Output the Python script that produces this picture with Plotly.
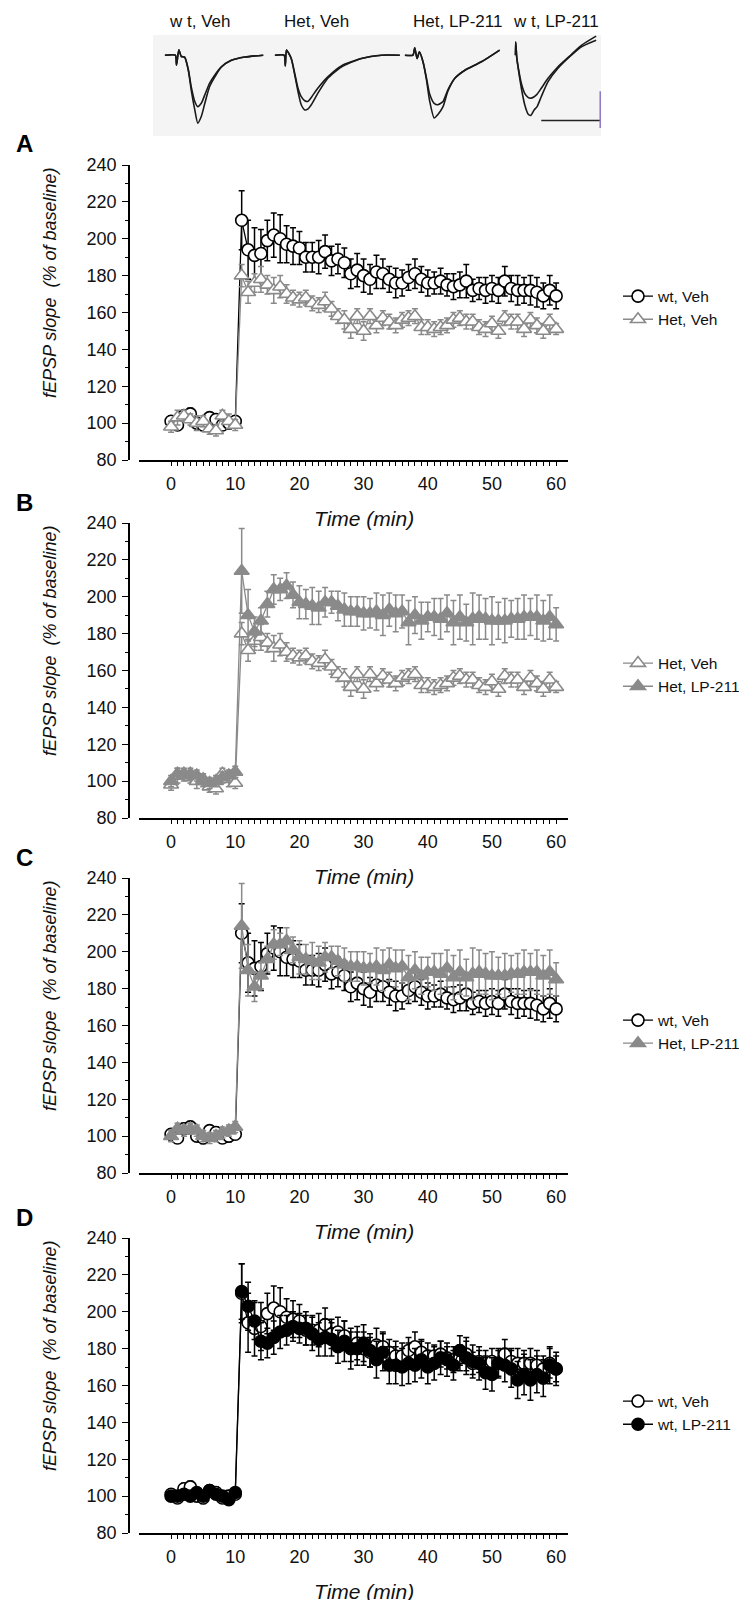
import plotly.graph_objects as go

W, H = 747, 1600
FONT = "Arial, Liberation Sans, sans-serif"
GREY = "#8a8a8a"

# ---- LTP time course data (minutes, % of baseline, SEM) ----
minutes = list(range(0, 61))

wt_veh = [101, 99, 104, 105, 100, 99, 103, 102, 99, 100, 101,
          210, 194, 191, 192, 199, 202, 200, 197, 196, 195,
          190, 190, 190, 193, 188, 189, 187, 181, 183, 180,
          178, 182, 181, 178, 176, 176, 179, 181, 178, 176,
          176, 177, 175, 174, 175, 177, 172, 173, 172, 173,
          172, 177, 173, 172, 172, 172, 171, 169, 172, 169]
wt_veh_sem = [3, 2, 3, 3, 2, 3, 2, 3, 2, 3, 2,
              16, 16, 15, 13, 11, 12, 13, 10, 10, 9,
              8, 8, 9, 9, 8, 8, 8, 8, 9, 9,
              8, 9, 8, 7, 8, 7, 7, 8, 7, 7,
              6, 7, 6, 7, 7, 9, 6, 6, 7, 7,
              7, 8, 7, 8, 7, 8, 8, 7, 8, 7]

het_veh = [98, 103, 104, 102, 100, 101, 97, 96, 104, 101, 99,
           180, 171, 176, 178, 175, 172, 174, 170, 168, 167,
           168, 165, 164, 166, 162, 158, 156, 151, 158, 150,
           158, 153, 157, 155, 153, 156, 157, 158, 152, 152,
           151, 152, 153, 156, 157, 155, 155, 152, 151, 154,
           150, 157, 155, 155, 151, 156, 153, 150, 155, 151]
het_veh_sem = [3, 4, 3, 3, 4, 3, 3, 3, 3, 4, 3,
               6, 6, 5, 7, 5, 7, 6, 5, 4, 4,
               4, 4, 4, 5, 4, 4, 5, 5, 4, 5,
               4, 4, 4, 4, 4, 4, 4, 4, 4, 4,
               4, 4, 4, 4, 4, 4, 4, 4, 4, 4,
               4, 4, 4, 4, 4, 4, 4, 4, 4, 3]

het_lp = [100, 104, 103, 104, 103, 100, 99, 100, 102, 103, 105,
          214, 190, 181, 187, 196, 204, 204, 206, 201, 197,
          196, 195, 194, 197, 197, 195, 193, 192, 192, 191,
          191, 192, 190, 193, 191, 192, 186, 190, 187, 189,
          189, 188, 191, 186, 189, 186, 188, 189, 188, 187,
          187, 187, 188, 188, 189, 189, 189, 187, 189, 185]
het_lp_sem = [3, 3, 3, 3, 3, 3, 3, 3, 3, 3, 3,
              23, 14, 8, 7, 7, 8, 6, 7, 7, 9,
              8, 10, 9, 8, 6, 8, 9, 8, 8, 9,
              8, 10, 11, 9, 10, 9, 12, 10, 10, 8,
              10, 11, 10, 12, 12, 10, 14, 12, 11, 13,
              10, 12, 10, 11, 12, 10, 12, 11, 12, 9]

wt_lp = [100, 100, 101, 100, 102, 100, 103, 101, 100, 98, 102,
         211, 203, 195, 184, 183, 186, 189, 190, 192, 191,
         191, 188, 185, 186, 185, 181, 184, 180, 180, 183,
         179, 174, 178, 171, 171, 170, 172, 171, 174, 170,
         172, 175, 174, 171, 179, 175, 173, 172, 167, 166,
         172, 171, 169, 163, 166, 163, 166, 164, 171, 169]
wt_lp_sem = [2, 2, 2, 2, 2, 2, 2, 2, 2, 2, 2,
             15, 13, 10, 10, 8, 9, 9, 8, 8, 8,
             9, 9, 9, 10, 9, 9, 11, 11, 9, 10,
             9, 10, 10, 10, 10, 10, 11, 9, 10, 9,
             9, 9, 9, 8, 8, 9, 9, 9, 9, 9,
             8, 9, 10, 10, 11, 11, 10, 10, 10, 9]

y_ticks = [80, 100, 120, 140, 160, 180, 200, 220, 240]
x_ticks = [0, 10, 20, 30, 40, 50, 60]

# ---- example fEPSP sweeps (ms, mV): baseline and post-tetanus ----
sweep_labels = ["w t, Veh", "Het, Veh", "Het, LP-211", "w t, LP-211"]
sweep_ms = [
    [0, 1.8, 2.0, 2.4, 2.8, 3.4, 4.0, 4.5, 5.1, 5.6, 6.2, 6.8, 7.6, 8.5, 9.6, 11.3, 13.6, 16.7],
    [0, 1.6, 1.8, 2.0, 2.8, 3.4, 3.95, 4.5, 5.1, 5.6, 6.2, 7.3, 9.0, 11.3, 14.7, 18.1, 21.2],
    [0, 1.4, 1.7, 2.1, 2.5, 3.1, 3.7, 4.2, 5.0, 5.6, 6.5, 7.3, 8.5, 10.2, 13.0, 16.1],
    [0, 0.17, 0.34, 0.68, 1.13, 1.7, 2.26, 2.7, 3.3, 3.8, 4.5, 5.65, 7.3, 9.6, 11.3, 13.8],
]
sweep_pre = [
    [0, 0, -0.27, 0.15, -0.03, -0.06, -0.39, -0.86, -1.26, -1.40, -1.31, -1.08, -0.77, -0.54, -0.32, -0.14, -0.05, 0],
    [0, 0, -0.29, 0.14, -0.09, -0.50, -0.90, -1.13, -1.24, -1.26, -1.15, -0.90, -0.59, -0.29, -0.09, 0, 0],
    [0, 0, 0.20, -0.09, 0.09, -0.18, -0.63, -1.04, -1.31, -1.35, -1.26, -0.95, -0.63, -0.41, -0.18, 0.14],
    [0, 0.36, -0.05, -0.41, -0.77, -1.04, -1.15, -1.17, -1.13, -1.06, -0.90, -0.63, -0.32, 0.02, 0.27, 0.52],
]
sweep_post = [
    [0, 0, -0.27, 0.15, -0.03, -0.06, -0.41, -0.95, -1.49, -1.85, -1.67, -1.31, -0.86, -0.59, -0.32, -0.14, -0.05, 0],
    [0, 0, -0.29, 0.14, -0.09, -0.54, -0.99, -1.35, -1.49, -1.47, -1.35, -1.04, -0.63, -0.32, -0.09, 0, 0],
    [0, 0, 0.20, -0.09, 0.09, -0.18, -0.68, -1.22, -1.71, -1.62, -1.40, -0.99, -0.63, -0.41, -0.18, 0.14],
    [0, 0.36, -0.05, -0.45, -0.90, -1.35, -1.60, -1.64, -1.49, -1.40, -1.13, -0.72, -0.36, 0, 0.23, 0.41],
]
scale_ms, scale_mv = 10, 1

# ---- styles ----
styles = {
    "wt, Veh": dict(symbol="circle", size=12, fill="white", edge="black"),
    "Het, Veh": dict(symbol="triangle-up", size=13, fill="white", edge=GREY),
    "Het, LP-211": dict(symbol="triangle-up", size=13, fill=GREY, edge=GREY),
    "wt, LP-211": dict(symbol="circle", size=12, fill="black", edge="black"),
}
series = {
    "wt, Veh": (wt_veh, wt_veh_sem),
    "Het, Veh": (het_veh, het_veh_sem),
    "Het, LP-211": (het_lp, het_lp_sem),
    "wt, LP-211": (wt_lp, wt_lp_sem),
}
panels = [
    ("A", ["wt, Veh", "Het, Veh"], 157, 452, 300),
    ("B", ["Het, Veh", "Het, LP-211"], 515, 810, 667),
    ("C", ["wt, Veh", "Het, LP-211"], 870, 1165, 1024),
    ("D", ["wt, Veh", "wt, LP-211"], 1230, 1525, 1405),
]


def px(v):
    return v / W


def py(v):
    return 1 - v / H


fig = go.Figure()
layout = dict(annotations=[], shapes=[])

for i, (letter, names, top, bottom, leg_y) in enumerate(panels):
    n = "" if i == 0 else str(i + 1)
    legend_id = "legend" + n
    for name in names:
        vals, sem = series[name]
        st = styles[name]
        fig.add_trace(go.Scatter(
            x=minutes, y=vals, name=name, mode="lines+markers",
            xaxis="x" + n, yaxis="y" + n, legend=legend_id,
            line=dict(color=st["edge"], width=1.3),
            marker=dict(symbol=st["symbol"], size=st["size"], color=st["fill"],
                        line=dict(color=st["edge"], width=1.6)),
            error_y=dict(type="data", array=sem, color=st["edge"],
                         thickness=1.5, width=3),
        ))
    layout["xaxis" + n] = dict(
        domain=[px(131), px(560)], range=[-5, 61.85], anchor="y" + n,
        showline=True, linecolor="black", linewidth=1.8,
        ticks="outside", ticklen=4, tickwidth=1.2, tickcolor="black",
        tickvals=x_ticks, ticklabelstandoff=2, automargin=False,
        minor=dict(tickvals=minutes, ticks="outside", ticklen=4,
                   tickcolor="black", tickwidth=1.2),
        showgrid=False, zeroline=False,
        tickfont=dict(family=FONT, size=18, color="#111"),
    )
    layout["yaxis" + n] = dict(
        domain=[py(bottom), py(top)], range=[80, 240], anchor="free",
        position=px(121), automargin=False,
        showline=True, linecolor="black", linewidth=1.8,
        ticks="outside", ticklen=6, tickwidth=1.2, tickcolor="black",
        tickvals=y_ticks, ticklabelstandoff=2,
        minor=dict(dtick=10, ticks="outside", ticklen=3,
                   tickcolor="black", tickwidth=1.2),
        showgrid=False, zeroline=False,
        tickfont=dict(family=FONT, size=18, color="#111"),
    )
    layout[legend_id] = dict(
        x=px(610), xanchor="left", y=py(leg_y), yanchor="middle",
        bgcolor="rgba(0,0,0,0)", font=dict(family=FONT, size=15.5, color="#111"),
        itemwidth=30, tracegroupgap=0,
    )
    layout["annotations"] += [
        dict(text="<b>%s</b>" % letter, xref="paper", yref="paper",
             x=px(16), y=py(top - 21), xanchor="center", yanchor="middle",
             showarrow=False, font=dict(family=FONT, size=24, color="black")),
        dict(text="<i>fEPSP slope\u00a0\u00a0(% of baseline)</i>",
             xref="paper", yref="y%s domain" % n, x=px(42), y=0.6,
             xanchor="center", yanchor="middle",
             textangle=-90, showarrow=False,
             font=dict(family=FONT, size=18, color="#111")),
        dict(text="<i>Time (min)</i>", xref="x" + n, yref="y%s domain" % n,
             x=30, y=-58 / (bottom - top), xanchor="center", yanchor="middle",
             showarrow=False, font=dict(family=FONT, size=21, color="#111")),
    ]

# ---- inset with example sweeps ----
sweep_left = [156.7, 266.7, 396.7, 506.7]
label_x = [191, 308, 449, 548]
layout["shapes"].append(dict(type="rect", xref="paper", yref="paper",
                             x0=px(145), x1=px(593), y0=py(128), y1=py(27),
                             fillcolor="#f4f4f4", line=dict(width=0), layer="below"))
for k in range(4):
    ax = str(5 + k)
    for trace_vals in (sweep_pre[k], sweep_post[k]):
        fig.add_trace(go.Scatter(
            x=sweep_ms[k], y=trace_vals, mode="lines", showlegend=False,
            xaxis="x" + ax, yaxis="y" + ax, hoverinfo="skip",
            line=dict(color="#1a1a1a", width=1.6, shape="spline", smoothing=0.6),
        ))
    layout["xaxis" + ax] = dict(domain=[px(sweep_left[k]), px(sweep_left[k] + 22 * 5.9)],
                                range=[0, 22], visible=False, anchor="y" + ax)
    layout["yaxis" + ax] = dict(domain=[py(128), py(27)], range=[-2.2, 0.55],
                                visible=False, anchor="x" + ax)
    layout["annotations"].append(dict(
        text=sweep_labels[k], xref="paper", yref="paper", x=px(label_x[k]), y=py(13),
        xanchor="center", yanchor="middle",
        showarrow=False, font=dict(family=FONT, size=17, color="#111")))

# scale bar (10 ms / 1 mV) on the last sweep
bar_x0, bar_y0 = 4.5, -1.78
fig.add_trace(go.Scatter(x=[bar_x0, bar_x0 + scale_ms], y=[bar_y0, bar_y0], mode="lines",
                         xaxis="x8", yaxis="y8", showlegend=False, hoverinfo="skip",
                         line=dict(color="#222", width=1.6)))
fig.add_trace(go.Scatter(x=[bar_x0 + scale_ms, bar_x0 + scale_ms],
                         y=[bar_y0 - 0.2, bar_y0 - 0.2 + scale_mv], mode="lines",
                         xaxis="x8", yaxis="y8", showlegend=False, hoverinfo="skip",
                         line=dict(color="#8f7cc4", width=1.6)))

fig.update_layout(
    width=W, height=H, margin=dict(l=0, r=0, t=0, b=0, autoexpand=False),
    paper_bgcolor="white", plot_bgcolor="rgba(0,0,0,0)",
    font=dict(family=FONT, color="#111"),
    **layout,
)

fig.write_html("out.html")
